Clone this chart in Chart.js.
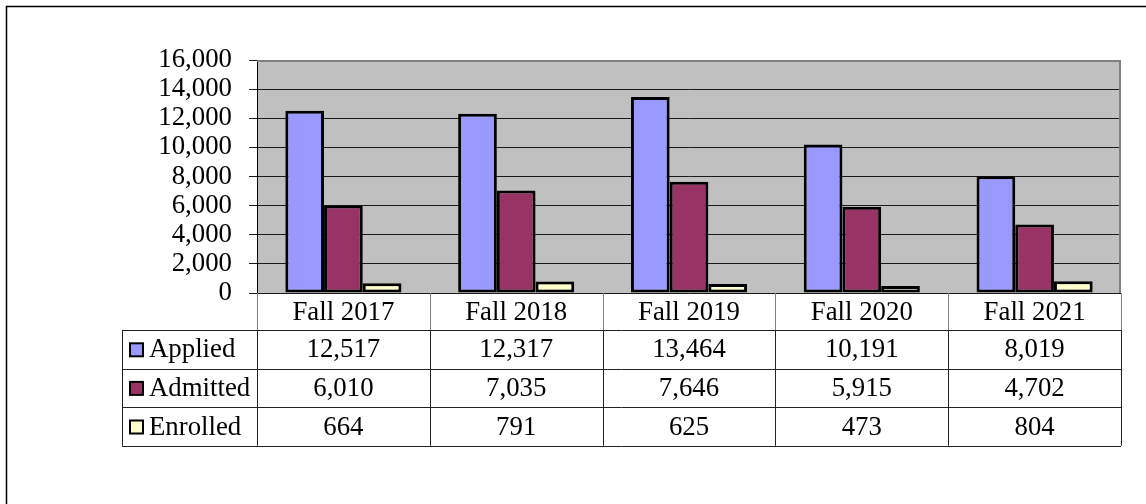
<!DOCTYPE html>
<html lang="en">
<head>
<meta charset="UTF-8" />
<script src="https://cdn.jsdelivr.net/npm/chart.js"></script>
<style>
  body { margin: 0; background: #fff; }
  #wrap { position: relative; width: 1146px; height: 504px; }
</style>
</head>
<body>
<div id="wrap"><canvas id="myChart"></canvas></div>
<script>
const terms = ['Fall 2017', 'Fall 2018', 'Fall 2019', 'Fall 2020', 'Fall 2021'];
const applied = [12517, 12317, 13464, 10191, 8019];
const admitted = [6010, 7035, 7646, 5915, 4702];
const enrolled = [664, 791, 625, 473, 804];
const seriesNames = ['Applied', 'Admitted', 'Enrolled'];
const seriesColors = ['#9999FF', '#993366', '#FFFFCC'];
const yMax = 16000;
const yStep = 2000;

const serif = "'Liberation Serif', 'Times New Roman', serif";
const fontSize = 26.8;
const headH = 37;
const rowH = 38.6;
const tableLeft = 122;

// gray plot background, plot frame and the data table underneath
const excelTable = {
  id: 'excelTable',
  beforeDraw(chart) {
    const { ctx, chartArea: a } = chart;
    ctx.save();
    ctx.strokeStyle = '#000';
    ctx.lineWidth = 1.5;
    ctx.beginPath();
    ctx.moveTo(6.5, 504);
    ctx.lineTo(6.5, 6.5);
    ctx.lineTo(1146, 6.5);
    ctx.stroke();
    ctx.fillStyle = '#C0C0C0';
    ctx.fillRect(a.left, a.top, a.right - a.left, a.bottom - a.top);
    ctx.restore();
  },
  afterDraw(chart) {
    const { ctx, chartArea: a } = chart;
    const x = chart.scales.x;
    const colW = (a.right - a.left) / terms.length;
    const top = a.bottom;
    const bodyTop = top + headH;
    const bottom = bodyTop + rowH * 3;
    ctx.save();

    // plot frame
    ctx.strokeStyle = '#808080';
    ctx.lineWidth = 2;
    ctx.beginPath();
    ctx.moveTo(a.left, a.top + 1);
    ctx.lineTo(a.right - 1, a.top + 1);
    ctx.lineTo(a.right - 1, a.bottom);
    ctx.stroke();

    // header row verticals (gray)
    ctx.lineWidth = 1;
    ctx.beginPath();
    for (let i = 0; i <= terms.length; i++) {
      const xx = Math.round(a.left + i * colW) + 0.5;
      ctx.moveTo(xx, top);
      ctx.lineTo(xx, bodyTop);
    }
    ctx.stroke();

    // body grid
    ctx.strokeStyle = '#222';
    ctx.beginPath();
    for (let r = 0; r <= 3; r++) {
      const yy = Math.round(bodyTop + r * rowH) + 0.5;
      ctx.moveTo(tableLeft, yy);
      ctx.lineTo(a.right, yy);
    }
    ctx.moveTo(tableLeft + 0.5, bodyTop);
    ctx.lineTo(tableLeft + 0.5, bottom);
    for (let i = 0; i <= terms.length; i++) {
      const xx = Math.round(a.left + i * colW) + 0.5;
      ctx.moveTo(xx, bodyTop);
      ctx.lineTo(xx, bottom);
    }
    ctx.stroke();

    ctx.fillStyle = '#000';
    ctx.font = fontSize + 'px ' + serif;
    ctx.textBaseline = 'middle';
    ctx.textAlign = 'center';
    terms.forEach((t, i) => ctx.fillText(t, x.getPixelForValue(i), top + headH / 2 + 1));

    [applied, admitted, enrolled].forEach((vals, r) => {
      const yMid = bodyTop + rowH * (r + 0.5);
      ctx.fillStyle = seriesColors[r];
      ctx.fillRect(130, yMid - 6, 13, 13);
      ctx.strokeStyle = '#000';
      ctx.lineWidth = 2;
      ctx.strokeRect(130, yMid - 6, 13, 13);
      ctx.fillStyle = '#000';
      ctx.textAlign = 'left';
      ctx.fillText(seriesNames[r], 149, yMid + 1);
      ctx.textAlign = 'center';
      vals.forEach((v, i) => ctx.fillText(v.toLocaleString('en-US'), x.getPixelForValue(i), yMid + 1));
    });
    ctx.restore();
  }
};

const ctx = document.getElementById('myChart').getContext('2d');
new Chart(ctx, {
  type: 'bar',
  data: {
    labels: terms,
    datasets: [applied, admitted, enrolled].map((d, i) => ({
      label: seriesNames[i],
      data: d,
      backgroundColor: seriesColors[i],
      borderColor: '#000',
      borderWidth: 3,
      borderSkipped: false,
      categoryPercentage: 0.672,
      barPercentage: 1.0
    }))
  },
  options: {
    responsive: true,
    maintainAspectRatio: false,
    animation: false,
    layout: { padding: { left: 0, right: 25, top: 60, bottom: 211 } },
    plugins: { legend: { display: false }, tooltip: { enabled: false } },
    scales: {
      x: { display: false },
      y: {
        min: 0,
        max: yMax,
        ticks: {
          stepSize: yStep,
          autoSkip: false,
          padding: 17,
          color: '#000',
          font: { family: serif, size: fontSize },
          callback: (v) => v.toLocaleString('en-US')
        },
        grid: { color: '#1a1a1a', lineWidth: 1, tickLength: 8 },
        border: { display: true, color: '#000', width: 1 },
        afterFit(scale) { scale.width = 257; }
      }
    }
  },
  plugins: [excelTable]
});
</script>
</body>
</html>
